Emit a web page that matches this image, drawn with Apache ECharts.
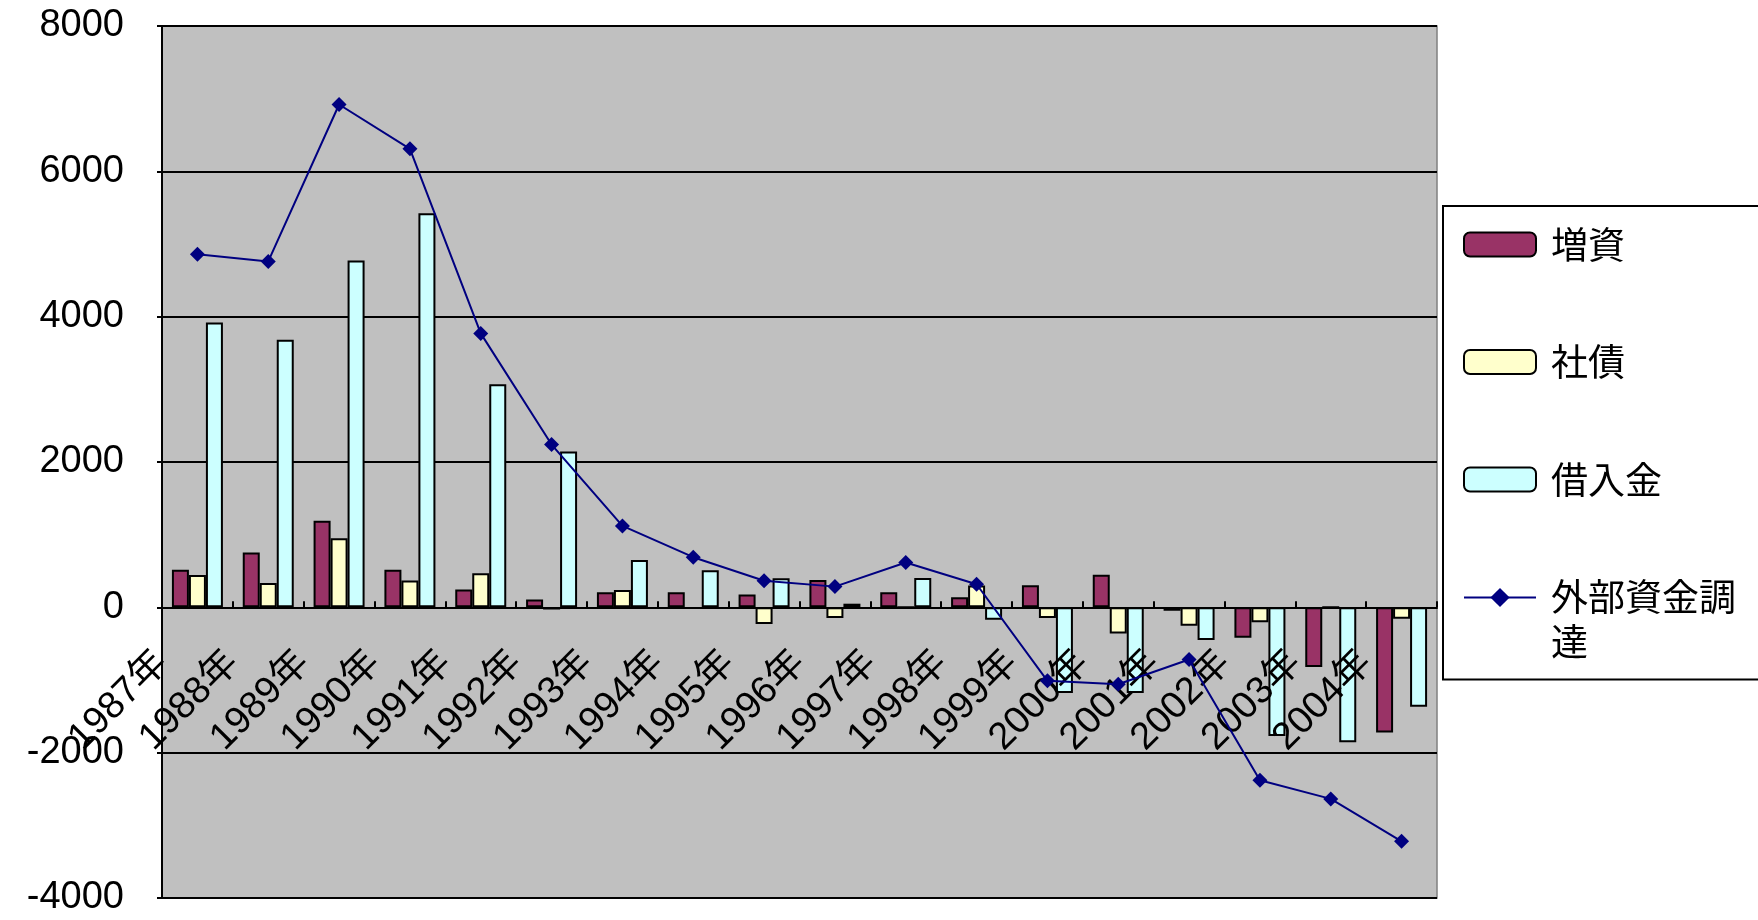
<!DOCTYPE html>
<html>
<head>
<meta charset="utf-8">
<title>外部資金調達</title>
<script src="https://cdn.jsdelivr.net/npm/echarts@6/dist/echarts.min.js"></script>
<style>
    html, body { margin: 0; padding: 0; background: #fff; }
    #main { width: 1758px; height: 920px; }
</style>
</head>
<body>
<div id="main"></div>
<script>
// 年度
const years = ['1987年', '1988年', '1989年', '1990年', '1991年', '1992年', '1993年', '1994年', '1995年',
    '1996年', '1997年', '1998年', '1999年', '2000年', '2001年', '2002年', '2003年', '2004年'];
// 各系列の値
const zoushi = [518, 754, 1193, 518, 247, 108, 207, 207, 176, 375, 209, 138, 304, 447, -47, -418, -822, -1724];
const shasai = [444, 335, 951, 370, 468, -30, 237, -20, -228, -147, 0, 300, -147, -361, -252, -204, 0, -157];
const kariire = [3919, 3683, 4772, 5423, 3071, 2145, 651, 510, 399, 50, 404, -171, -1178, -1178, -451, -1772, -1857, -1368];
const gaibu = [4860, 4760, 6920, 6310, 3770, 2240, 1120, 690, 366, 285, 617, 318, -1012, -1059, -717, -2380, -2636, -3220];
// 縦軸
const yMin = -4000;
const yMax = 8000;
const yStep = 2000;

const seriesNames = ['増資', '社債', '借入金', '外部資金調達'];
const latinFont = '"Liberation Sans", "Noto Sans CJK JP", sans-serif';
const cjkFont = '"Noto Sans CJK JP"';

// グリッド（ピクセル）
const gridTop = 26;
const gridBottom = 22;
const chartHeight = 920;

const chart = echarts.init(document.getElementById('main'));

const barStyle = (color) => ({
    color: color,
    borderColor: '#000',
    borderWidth: 2
});

// 0 の位置まで横軸を持ち上げる量
const plotHeight = chartHeight - gridTop - gridBottom;
const zeroOffset = -plotHeight * (0 - yMin) / (yMax - yMin);

const option = {
    animation: false,
    backgroundColor: '#ffffff',
    grid: {
        left: 162,
        right: 321,
        top: gridTop,
        bottom: gridBottom,
        outerBoundsMode: 'none',
        show: true,
        backgroundColor: '#c0c0c0',
        borderColor: '#808080',
        borderWidth: 1.5
    },
    legend: {
        orient: 'vertical',
        left: 1443,
        top: 206,
        padding: [16, 40, 15, 20],
        itemGap: 72.5,
        itemWidth: 72,
        itemHeight: 24,
        borderColor: '#000',
        borderWidth: 2,
        backgroundColor: '#fff',
        textStyle: {
            fontSize: 37,
            lineHeight: 45,
            color: '#000',
            fontFamily: cjkFont,
            padding: [0, 0, 0, 10],
            rich: {
                t: { fontSize: 37, lineHeight: 45, color: '#000', fontFamily: cjkFont },
                // 2行目は1行目の下にぶら下げる
                d: { fontSize: 37, lineHeight: 1, height: 45, verticalAlign: 'top', color: '#000', fontFamily: cjkFont }
            }
        },
        // 長い名前は2行に折り返す
        formatter: name => name.length > 5
            ? '{t|' + name.slice(0, 5) + '}\n{d|' + name.slice(5) + '}'
            : name,
        data: seriesNames
    },
    xAxis: [
        {
            type: 'category',
            data: years,
            axisLine: { show: false, onZero: false },
            axisTick: { show: false },
            axisLabel: { show: false },
            splitLine: { show: false }
        },
        {
            // 目盛りとラベルは区切り位置に置く（棒より前面）
            type: 'category',
            position: 'bottom',
            offset: zeroOffset,
            z: 3,
            boundaryGap: false,
            data: years.concat(['']),
            axisLine: { onZero: false, lineStyle: { color: '#000', width: 2 } },
            axisTick: { inside: true, length: 6, lineStyle: { color: '#000', width: 2 } },
            splitLine: { show: false },
            axisLabel: {
                interval: 0,
                rotate: 45,
                margin: 50,
                fontSize: 38,
                fontFamily: latinFont,
                color: '#000'
            }
        }
    ],
    yAxis: {
        type: 'value',
        min: yMin,
        max: yMax,
        interval: yStep,
        axisLine: { show: true, lineStyle: { color: '#000', width: 2 } },
        axisTick: { show: true, length: 5, lineStyle: { color: '#000', width: 2 } },
        axisLabel: {
            margin: 38,
            fontSize: 38,
            fontFamily: latinFont,
            color: '#000',
            formatter: v => String(v)
        },
        splitLine: { lineStyle: { color: '#000', width: 2 } }
    },
    series: [
        {
            name: seriesNames[0],
            type: 'bar',
            data: zoushi,
            barGap: '0%',
            barCategoryGap: '28%',
            itemStyle: barStyle('#993366')
        },
        {
            name: seriesNames[1],
            type: 'bar',
            data: shasai,
            barGap: '0%',
            barCategoryGap: '28%',
            itemStyle: barStyle('#ffffcc')
        },
        {
            name: seriesNames[2],
            type: 'bar',
            data: kariire,
            barGap: '0%',
            barCategoryGap: '28%',
            itemStyle: barStyle('#ccffff')
        },
        {
            name: seriesNames[3],
            type: 'line',
            z: 4,
            data: gaibu,
            symbol: 'diamond',
            symbolSize: 15,
            lineStyle: { color: '#000080', width: 2 },
            itemStyle: { color: '#000080' }
        }
    ]
};

chart.setOption(option);
</script>
</body>
</html>
